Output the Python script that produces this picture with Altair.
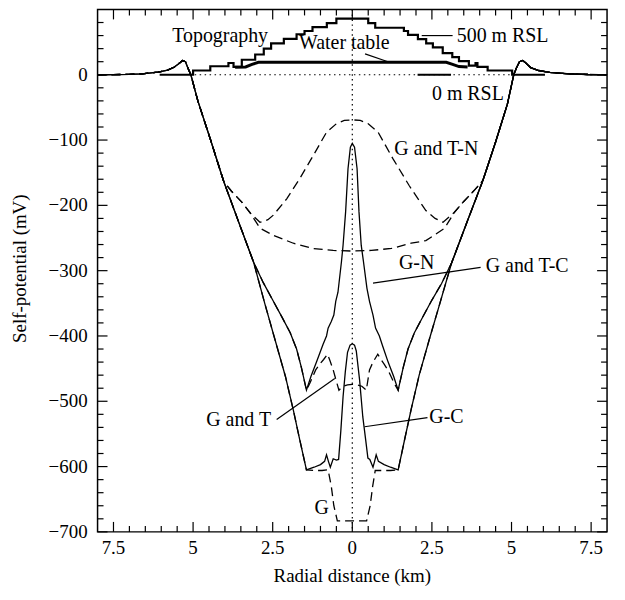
import altair as alt
import pandas as pd

# ---------------- axis tick positions and labels ----------------
X_MAJOR = [-7.5, -5.0, -2.5, 0.0, 2.5, 5.0, 7.5]
X_LABELS = ["7.5", "5", "2.5", "0", "2.5", "5", "7.5"]
X_MINOR = [-7.0, -6.5, -6.0, -5.5, -4.5, -4.0, -3.5, -3.0, -2.0, -1.5, -1.0, -0.5,
           0.5, 1.0, 1.5, 2.0, 3.0, 3.5, 4.0, 4.5, 5.5, 6.0, 6.5, 7.0]
Y_MAJOR = [-700, -600, -500, -400, -300, -200, -100, 0]
Y_LABELS = ["\u2212700", "\u2212600", "\u2212500", "\u2212400", "\u2212300", "\u2212200", "\u2212100", "0"]
Y_MINOR = [-680, -660, -640, -620, -580, -560, -540, -520, -480, -460, -440, -420,
           -380, -360, -340, -320, -280, -260, -240, -220, -180, -160, -140, -120,
           -80, -60, -40, -20, 20, 40, 60, 80]
X_TITLE = ["Radial distance (km)"]
Y_TITLE = ["Self-potential (mV)"]

# ---------------- shared curve pieces (km, mV) ----------------
ENV_L_X = [-8.0, -7.5, -7.0, -6.6, -6.1, -5.8, -5.6, -5.45, -5.33, -5.24, -5.16, -5.07, -4.85, -4.45, -4.04]
ENV_L_Y = [0.0, 0.2, 0.6, 1.5, 4.0, 7.0, 11.5, 17.0, 22.0, 20.0, 10.0, 0.0, -40.0, -100.0, -163.0]
MID_L_X = [-3.55, -3.1]
MID_L_Y = [-228, -287]
OUT_L_X = [-2.75, -2.42, -2.1, -1.85, -1.65, -1.44]
OUT_L_Y = [-350, -407, -462, -514, -559, -605]
INN_L_X = [-2.8, -2.5, -2.2, -1.95, -1.75, -1.6, -1.44]
INN_L_Y = [-318, -345, -372, -395, -420, -448, -483]
NTH_L_X = [-3.8, -3.47, -3.2]
NTH_L_Y = [-178, -195, -212]

NTH_R_X = [3.2, 3.5, 3.85]
NTH_R_Y = [-211, -194, -176]
INN_R_X = [1.44, 1.6, 1.75, 1.95, 2.2, 2.5, 2.8]
INN_R_Y = [-483, -448, -420, -395, -372, -345, -320]
OUT_R_X = [1.44, 1.65, 1.85, 2.1, 2.42, 2.75]
OUT_R_Y = [-605, -557, -512, -460, -405, -350]
MID_R_X = [3.12, 3.6]
MID_R_Y = [-288, -226]
ENV_R_X = [4.1, 4.5, 4.87, 5.07, 5.15, 5.25, 5.35, 5.45, 5.6, 5.85, 6.2, 6.8, 7.4, 8.0]
ENV_R_Y = [-162, -103, -45, 0.0, 10.0, 20.0, 22.0, 18.0, 11.0, 6.5, 3.5, 1.5, 0.4, 0.0]

# ---------------- central parts of each curve ----------------
G_X = [-1.2, -0.95, -0.76, -0.66, -0.58, -0.47, 0.45, 0.56, 0.64, 0.72, 0.95, 1.2]
G_Y = [-606, -606, -605, -630, -660, -683, -683, -660, -630, -606, -606, -606]

GC_X = [-1.2, -1.0, -0.87, -0.81, -0.75, -0.69, -0.6, -0.5, -0.43, -0.36, -0.29, -0.22, -0.15, -0.07,
        0.0, 0.07, 0.125, 0.23, 0.33, 0.42, 0.49, 0.55, 0.65, 0.7, 0.75, 0.82, 1.0, 1.2]
GC_Y = [-601, -597, -592, -582, -592, -601, -588, -590, -589, -545, -493, -455, -425, -414,
        -412, -414, -423, -468, -524, -559, -587, -589, -601, -592, -582, -592, -597, -601]

GT_X = [-1.33, -1.15, -1.02, -0.9, -0.78, -0.7, -0.6, -0.52, -0.42, -0.3, -0.15, 0.0,
        0.15, 0.3, 0.44, 0.54, 0.65, 0.8, 0.9, 1.0, 1.15, 1.33]
GT_Y = [-472, -452, -443, -436, -428, -438, -452, -466, -483, -477, -475, -474,
        -475, -477, -483, -452, -440, -428, -436, -443, -455, -474]

GTC_X = [-1.3, -1.125, -0.92, -0.81, -0.76, -0.66, -0.58, -0.52, -0.45, -0.34, -0.29, -0.21, -0.135, -0.06,
         0.0, 0.07, 0.15, 0.21, 0.28, 0.35, 0.46, 0.54, 0.65, 0.73, 0.85, 0.95, 1.125, 1.3]
GTC_Y = [-462, -440, -413, -400, -388, -378, -368, -347, -333, -286, -261, -210, -144, -111,
         -105, -111, -144, -210, -261, -286, -327, -347, -368, -388, -400, -415, -440, -462]

GN_X = [-2.9, -2.48, -1.85, -1.23, -0.6, 0.0, 0.6, 1.23, 1.85, 2.31, 2.9]
GN_Y = [-235, -246, -258, -266, -269, -270, -269, -266, -258, -254, -235]

GTN_X = [-2.9, -2.65, -2.48, -2.06, -1.65, -1.23, -0.81, -0.5, -0.25, 0.0,
         0.25, 0.5, 0.81, 1.27, 1.79, 2.31, 2.6, 2.85]
GTN_Y = [-226, -222, -215, -190, -159, -124, -88, -75, -70, -69,
         -70, -75, -88, -128, -170, -208, -220, -226]

# ---------------- topography (step profile) and water table ----------------
TOPO_X = [-6.05, -5.0, -4.46, -3.89, -3.73, -3.47, -3.05, -2.78, -2.55, -2.15, -1.75, -1.5, -1.25, -0.8, -0.5,
          0.5, 0.72, 1.62, 1.75, 2.06, 2.32, 2.53, 2.84, 3.14, 3.35, 3.66, 3.87, 3.93, 4.25, 5.02, 6.05]
TOPO_Y = [0, 6.5, 13, 18, 12, 23, 31, 40, 48, 55, 62, 67, 73, 79, 86,
          79, 72, 67, 61, 54.5, 48, 42, 33, 27, 21, 14, 18, 12, 6.5, 0, 0]
WT_X = [-3.68, -3.35, -3.15, -2.95, 2.95, 3.15, 3.35, 3.62]
WT_Y = [11.5, 12.0, 16.0, 19.0, 19.0, 16.0, 12.5, 12.0]

# ---------------- annotations ----------------
LABELS_LEFT = ["500 m RSL", "G and T-N", "G and T-C", "G-C"]
LABELS_LEFT_X = [3.28, 1.32, 4.19, 2.42]
LABELS_LEFT_Y = [60, -113, -293, -524]
LABELS_MID = ["Topography", "Water table", "0 m RSL", "G-N", "G and T", "G"]
LABELS_MID_X = [-4.15, -0.25, 3.63, 2.02, -3.57, -0.96]
LABELS_MID_Y = [60, 48, -29, -289, -529, -663]
LEAD_X1 = [0.4, 2.18, 4.03, -2.375, 2.36]
LEAD_Y1 = [32, 60, -295, -528, -525]
LEAD_X2 = [1.12, 3.15, 0.65, -0.55, 0.385]
LEAD_Y2 = [20, 60, -319, -465, -539]
RSL0_X = [2.05]
RSL0_X2 = [3.1]
RSL0_Y = [0]
DOT_H_X = [-4.95]
DOT_H_X2 = [4.95]
DOT_H_Y = [0]
DOT_V_X = [0.0]

W, H = 512, 525
FONT = "Liberation Serif"

curves = {
    ("G", "dash"): (ENV_L_X + MID_L_X + OUT_L_X + G_X + OUT_R_X + MID_R_X + ENV_R_X,
                    ENV_L_Y + MID_L_Y + OUT_L_Y + G_Y + OUT_R_Y + MID_R_Y + ENV_R_Y),
    ("G-C", "solid"): (ENV_L_X + MID_L_X + OUT_L_X + GC_X + OUT_R_X + MID_R_X + ENV_R_X,
                       ENV_L_Y + MID_L_Y + OUT_L_Y + GC_Y + OUT_R_Y + MID_R_Y + ENV_R_Y),
    ("G and T", "dash"): (ENV_L_X + MID_L_X + INN_L_X + GT_X + INN_R_X + MID_R_X + ENV_R_X,
                          ENV_L_Y + MID_L_Y + INN_L_Y + GT_Y + INN_R_Y + MID_R_Y + ENV_R_Y),
    ("G and T-C", "solid"): (ENV_L_X + MID_L_X + INN_L_X + GTC_X + INN_R_X + MID_R_X + ENV_R_X,
                             ENV_L_Y + MID_L_Y + INN_L_Y + GTC_Y + INN_R_Y + MID_R_Y + ENV_R_Y),
    ("G-N", "dash"): (ENV_L_X + NTH_L_X + GN_X + NTH_R_X + ENV_R_X,
                      ENV_L_Y + NTH_L_Y + GN_Y + NTH_R_Y + ENV_R_Y),
    ("G and T-N", "dash"): (ENV_L_X + NTH_L_X + GTN_X + NTH_R_X + ENV_R_X,
                            ENV_L_Y + NTH_L_Y + GTN_Y + NTH_R_Y + ENV_R_Y),
}
rows = []
for (name, style), (xs, ys) in curves.items():
    for i, (a, b) in enumerate(zip(xs, ys)):
        rows.append({"curve": name, "style": style, "i": i, "x": a, "y": b})
df_curves = pd.DataFrame(rows)

XS = alt.Scale(domain=[-8, 8], nice=False, zero=False)
YS = alt.Scale(domain=[-700, 100], nice=False, zero=False)


def X(f):
    return alt.X(f, type="quantitative", scale=XS, axis=None)


def Y(f):
    return alt.Y(f, type="quantitative", scale=YS, axis=None)


layers = []

# dotted reference lines
layers.append(alt.Chart(pd.DataFrame({"x": DOT_V_X})).mark_rule(
    color="black", strokeWidth=1.2, strokeDash=[1.5, 3.5]).encode(x=X("x")))
layers.append(alt.Chart(pd.DataFrame({"x": DOT_H_X, "x2": DOT_H_X2, "y": DOT_H_Y})).mark_rule(
    color="black", strokeWidth=1.2, strokeDash=[1.5, 3.5]).encode(x=X("x"), x2="x2", y=Y("y")))

# topography and water table
layers.append(alt.Chart(pd.DataFrame({"x": TOPO_X, "y": TOPO_Y})).mark_line(
    color="black", strokeWidth=2.2, interpolate="step-after").encode(x=X("x"), y=Y("y")))
layers.append(alt.Chart(pd.DataFrame({"x": WT_X, "y": WT_Y})).mark_line(
    color="black", strokeWidth=3).encode(x=X("x"), y=Y("y")))

# self-potential curves
solid = df_curves[df_curves["style"] == "solid"]
dash = df_curves[df_curves["style"] == "dash"]
layers.append(alt.Chart(solid).mark_line(color="black", strokeWidth=1.3).encode(
    x=X("x"), y=Y("y"), detail="curve:N", order="i:Q"))
layers.append(alt.Chart(dash).mark_line(color="black", strokeWidth=1.3, strokeDash=[9, 5]).encode(
    x=X("x"), y=Y("y"), detail="curve:N", order="i:Q"))

# leader lines
layers.append(alt.Chart(pd.DataFrame({"x": LEAD_X1, "y": LEAD_Y1, "x2": LEAD_X2, "y2": LEAD_Y2})).mark_rule(
    color="black", strokeWidth=1.2).encode(x=X("x"), y=Y("y"), x2="x2", y2="y2"))
layers.append(alt.Chart(pd.DataFrame({"x": RSL0_X, "x2": RSL0_X2, "y": RSL0_Y})).mark_rule(
    color="black", strokeWidth=2).encode(x=X("x"), x2="x2", y=Y("y")))

# annotation labels
layers.append(alt.Chart(pd.DataFrame({"t": LABELS_LEFT, "x": LABELS_LEFT_X, "y": LABELS_LEFT_Y})).mark_text(
    align="left", baseline="middle", font=FONT, fontSize=20, color="black").encode(
    x=X("x"), y=Y("y"), text="t:N"))
layers.append(alt.Chart(pd.DataFrame({"t": LABELS_MID, "x": LABELS_MID_X, "y": LABELS_MID_Y})).mark_text(
    align="center", baseline="middle", font=FONT, fontSize=20, color="black").encode(
    x=X("x"), y=Y("y"), text="t:N"))

# tick labels and axis titles
layers.append(alt.Chart(pd.DataFrame({"x": X_MAJOR, "t": X_LABELS})).mark_text(
    align="center", baseline="top", font=FONT, fontSize=19, color="black", dy=0).encode(
    x=X("x"), y=alt.value(H + 7), text="t:N"))
layers.append(alt.Chart(pd.DataFrame({"y": Y_MAJOR, "t": Y_LABELS})).mark_text(
    align="right", baseline="middle", font=FONT, fontSize=19, color="black").encode(
    y=Y("y"), x=alt.value(-10), text="t:N"))
layers.append(alt.Chart(pd.DataFrame({"t": X_TITLE})).mark_text(
    align="center", baseline="middle", font=FONT, fontSize=19, color="black").encode(
    x=alt.value(W / 2), y=alt.value(H + 44), text="t:N"))
layers.append(alt.Chart(pd.DataFrame({"t": Y_TITLE})).mark_text(
    align="center", baseline="middle", font=FONT, fontSize=19, color="black", angle=270).encode(
    x=alt.value(-78), y=alt.value(H / 2 - 2), text="t:N"))

# inward ticks on all four sides
for vals, ln in ((X_MAJOR, 10), (X_MINOR, 6)):
    d = pd.DataFrame({"x": vals})
    layers.append(alt.Chart(d).mark_rule(color="black", strokeWidth=1.2).encode(
        x=X("x"), y=alt.value(H), y2=alt.value(H - ln)))
    layers.append(alt.Chart(d).mark_rule(color="black", strokeWidth=1.2).encode(
        x=X("x"), y=alt.value(0), y2=alt.value(ln)))
for vals, ln in ((Y_MAJOR, 10), (Y_MINOR, 6)):
    d = pd.DataFrame({"y": vals})
    layers.append(alt.Chart(d).mark_rule(color="black", strokeWidth=1.2).encode(
        y=Y("y"), x=alt.value(0), x2=alt.value(ln)))
    layers.append(alt.Chart(d).mark_rule(color="black", strokeWidth=1.2).encode(
        y=Y("y"), x=alt.value(W), x2=alt.value(W - ln)))

chart = alt.layer(*layers).properties(
    width=W, height=H,
    autosize=alt.AutoSizeParams(type="none"),
    padding={"left": 90, "top": 0, "right": 10, "bottom": 67},
    background="white",
).configure_view(stroke="black", strokeWidth=1.5)

chart.save("out.html", embed_options={"renderer": "svg", "actions": False})
